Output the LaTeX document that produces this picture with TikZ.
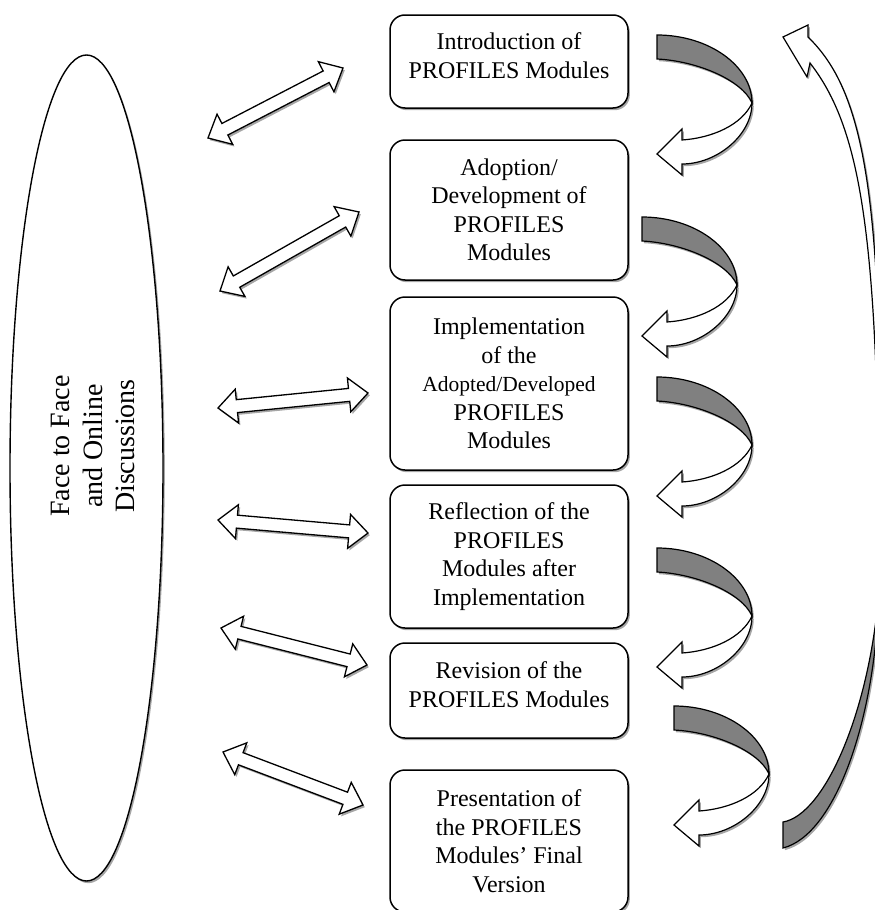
\documentclass[tikz,border=0pt]{standalone}
\usepackage{fontspec}
\setmainfont{Liberation Serif}
\usetikzlibrary{shapes.geometric,shadows,calc}

\tikzset{
  shdw/.style={drop shadow={shadow xshift=1.8pt, shadow yshift=-2.2pt, fill=black, opacity=0.35}},
  box/.style={draw, line width=1.5pt, rounded corners=15pt, fill=white, minimum width=238pt,
    inner sep=0pt, align=center, font=\fontsize{24}{28.5}\selectfont, shdw},
  dbl/.style={draw, line width=1.3pt, fill=white, line join=miter, shdw},
  ribbonback/.style={draw, line width=1.2pt, fill=black!50, shdw},
  ribbonfront/.style={draw, line width=1.2pt, fill=white, shdw},
  curvarrow/.pic={
    \path[ribbonback] (0,0) .. controls (52,0) and (95,31) .. (95,68)
      .. controls (85,45) and (40,26) .. (0,24) -- cycle;
    \path[ribbonfront] (95,68) .. controls (85,90) and (55,103) .. (25,105)
      -- (25,94) -- (0,119) -- (25,140) -- (25,129)
      .. controls (60,129) and (95,100) .. (95,68) -- cycle;
  }
}

\newcommand\dblarrow[2]{%
  \path[dbl] (#1)
    -- ($(#1)!19pt!(#2)!17pt!90:(#2)$)
    -- ($(#1)!19pt!(#2)!6.5pt!90:(#2)$)
    -- ($(#2)!19pt!(#1)!6.5pt!-90:(#1)$)
    -- ($(#2)!19pt!(#1)!17pt!-90:(#1)$)
    -- (#2)
    -- ($(#2)!19pt!(#1)!17pt!90:(#1)$)
    -- ($(#2)!19pt!(#1)!6.5pt!90:(#1)$)
    -- ($(#1)!19pt!(#2)!6.5pt!-90:(#2)$)
    -- ($(#1)!19pt!(#2)!17pt!-90:(#2)$)
    -- cycle;}

\begin{document}
\begin{tikzpicture}[x=1pt, y=-1pt]
\useasboundingbox (0,0) rectangle (875,910);
\clip (0,0) rectangle (875,910);

% left ellipse
\node[draw, ellipse, line width=1.4pt, fill=white, minimum width=153pt, minimum height=826pt,
  inner sep=0pt, shdw] (disc) at (86.5,468) {};
\node[rotate=90, align=center, inner sep=0pt, font=\fontsize{28}{32.5}\selectfont]
  (disctext) at (93,446) {Face to Face\\and Online\\Discussions};

% boxes
\node[box, minimum height=93pt, text depth=12pt]  (b1) at (509,61.5) {Introduction of\\PROFILES Modules};
\node[box, minimum height=140pt] (b2) at (509,210) {Adoption/\\Development of\\PROFILES\\Modules};
\node[box, minimum height=173pt] (b3) at (509,383.5) {Implementation\\of the\\{\fontsize{21.5}{28.5}\selectfont Adopted/Developed}\\PROFILES\\Modules};
\node[box, minimum height=143pt] (b4) at (509,556.5) {Reflection of the\\PROFILES\\Modules after\\Implementation};
\node[box, minimum height=95pt, text depth=12pt]  (b5) at (509,690.5) {Revision of the\\PROFILES Modules};
\node[box, minimum height=142pt] (b6) at (509,841) {Presentation of\\the PROFILES\\Modules’ Final\\Version};

% double arrows
\coordinate (L1) at (208,138); \coordinate (R1) at (343,68);
\coordinate (L2) at (220,291); \coordinate (R2) at (359,212);
\coordinate (L3) at (218,408); \coordinate (R3) at (368,393);
\coordinate (L4) at (218,520); \coordinate (R4) at (368,533);
\coordinate (L5) at (221,628); \coordinate (R5) at (367,665);
\coordinate (L6) at (223,752); \coordinate (R6) at (363,805);
\dblarrow{L1}{R1}
\dblarrow{L2}{R2}
\dblarrow{L3}{R3}
\dblarrow{L4}{R4}
\dblarrow{L5}{R5}
\dblarrow{L6}{R6}

% curved step arrows
\pic at (657,35) {curvarrow};
\pic at (642,217) {curvarrow};
\pic at (657,377) {curvarrow};
\pic at (657,548) {curvarrow};
\pic at (674,706) {curvarrow};

% big return arrow
\path[ribbonback] (783,822) -- (783,848) .. controls (835,835) and (876,720) .. (879,590)
  .. controls (870,710) and (825,815) .. (783,822) -- cycle;
\path[ribbonfront] (783,37) -- (808,25) -- (808,37)
  .. controls (868,95) and (886,210) .. (879,590)
  .. controls (880,240) and (862,130) .. (810,63) -- (807,77) -- cycle;
\end{tikzpicture}
\end{document}
